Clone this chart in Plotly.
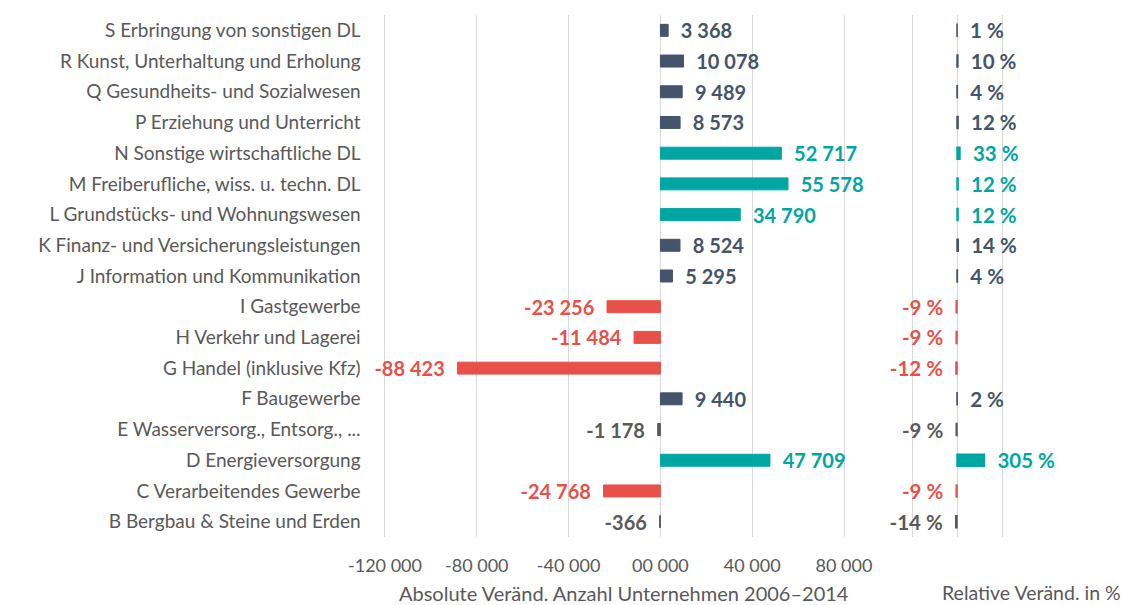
import plotly.graph_objects as go

categories = [
    "S Erbringung von sonstigen DL",
    "R Kunst, Unterhaltung und Erholung",
    "Q Gesundheits- und Sozialwesen",
    "P Erziehung und Unterricht",
    "N Sonstige wirtschaftliche DL",
    "M Freiberufliche, wiss. u. techn. DL",
    "L Grundstücks- und Wohnungswesen",
    "K Finanz- und Versicherungsleistungen",
    "J Information und Kommunikation",
    "I Gastgewerbe",
    "H Verkehr und Lagerei",
    "G Handel (inklusive Kfz)",
    "F Baugewerbe",
    "E Wasserversorg., Entsorg., ...",
    "D Energieversorgung",
    "C Verarbeitendes Gewerbe",
    "B Bergbau & Steine und Erden",
]
abs_change = [3368, 10078, 9489, 8573, 52717, 55578, 34790, 8524, 5295,
              -23256, -11484, -88423, 9440, -1178, 47709, -24768, -366]
rel_change = [1, 10, 4, 12, 33, 12, 12, 14, 4, -9, -9, -12, 2, -9, 305, -9, -14]
groups = ["dark", "dark", "dark", "dark", "teal", "teal", "teal", "dark", "dark",
          "red", "red", "red", "dark", "gray", "teal", "red", "gray"]

abs_tickvals = [-120000, -80000, -40000, 0, 40000, 80000]
abs_ticktext = ["-120 000", "-80 000", "-40 000", "00 000", "40 000", "80 000"]
rel_tickvals = [-500, 0, 500]

palette = {"dark": "#44546A", "teal": "#00A6A2", "red": "#E8504A", "gray": "#5A5A5A"}
colors = [palette[g] for g in groups]
label_colors = colors

GRID = "#D9D9D9"
TXT = "#595959"
FONT = "Lato"
PAD = "\u00a0\u00a0"

# page body has an 8px margin: lay out in window pixels, then shift
OX, OY = 8, 8
W, H = 1139 - OX, 605 - OY


def px(x):
    return (x - OX) / W


def fmt_abs(v):
    s = f"{abs(v):,}".replace(",", " ")
    return ("-" if v < 0 else "") + s


def fmt_rel(v):
    return f"{v} %"


def pad(s, v):
    return PAD + s if v >= 0 else s + PAD


abs_text = [pad(fmt_abs(v), v) for v in abs_change]
rel_text = [pad(fmt_rel(v), v) for v in rel_change]

fig = go.Figure()
fig.add_trace(go.Bar(
    y=categories, x=abs_change, orientation="h",
    marker=dict(color=colors, line=dict(color=colors, width=1)),
    text=abs_text, textposition="outside", constraintext="none", cliponaxis=False,
    textfont=dict(family=FONT, size=20, color=label_colors, weight="bold"),
    xaxis="x", yaxis="y", showlegend=False, hoverinfo="skip",
))
fig.add_trace(go.Bar(
    y=categories, x=rel_change, orientation="h",
    marker=dict(color=colors, line=dict(color=colors, width=1.5)),
    text=rel_text, textposition="outside", constraintext="none", cliponaxis=False,
    textfont=dict(family=FONT, size=20.5, color=label_colors, weight="bold"),
    xaxis="x2", yaxis="y2", showlegend=False, hoverinfo="skip",
))

plot_top, plot_bot = 14.6 - OY, 537.4 - OY
plot_h = plot_bot - plot_top
title_y = -(593 - 537.4) / plot_h

fig.update_layout(
    width=W, height=H,
    margin=dict(l=0, r=0, t=plot_top, b=H - plot_bot),
    paper_bgcolor="white", plot_bgcolor="white",
    bargap=0.61,
    font=dict(family=FONT, color=TXT),
    xaxis=dict(
        domain=[px(383.6), px(845.4)], range=[-120600, 80600],
        tickvals=abs_tickvals, ticktext=abs_ticktext,
        showgrid=True, gridcolor=GRID, gridwidth=1, zeroline=False,
        showline=False, ticks="", tickfont=dict(size=18, color=TXT),
        ticklabelstandoff=16, automargin=False,
    ),
    yaxis=dict(
        domain=[0, 1], anchor="x", autorange="reversed",
        showgrid=False, zeroline=False, showline=False, ticks="",
        tickfont=dict(size=19, color=TXT), ticklabelstandoff=22, automargin=False,
    ),
    xaxis2=dict(
        domain=[px(910.2), px(1003.8)], range=[-520, 520],
        tickvals=rel_tickvals, showticklabels=False,
        showgrid=True, gridcolor=GRID, gridwidth=1, zeroline=False,
        showline=False, ticks="", anchor="y2", automargin=False,
    ),
    yaxis2=dict(
        domain=[0, 1], anchor="x2", matches="y", autorange="reversed",
        showticklabels=False, showgrid=False, zeroline=False, showline=False,
        ticks="", automargin=False,
    ),
    annotations=[
        dict(text="Absolute Veränd. Anzahl Unternehmen 2006–2014",
             x=px(624), xref="paper", y=title_y, yref="paper",
             xanchor="center", yanchor="middle", showarrow=False,
             font=dict(family=FONT, size=20, color=TXT)),
        dict(text="Relative Veränd. in %",
             x=px(1031), xref="paper", y=title_y, yref="paper",
             xanchor="center", yanchor="middle", showarrow=False,
             font=dict(family=FONT, size=19.5, color=TXT)),
    ],
)

fig.write_html("out.html")
